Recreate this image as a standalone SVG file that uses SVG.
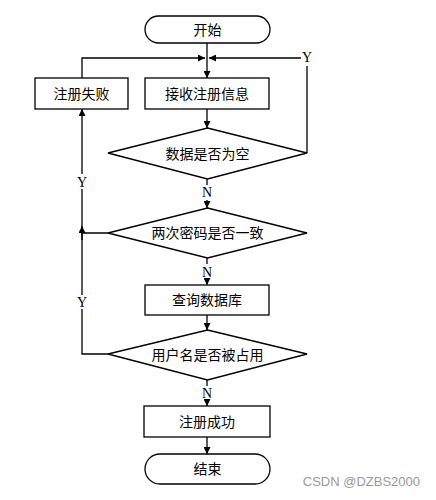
<svg xmlns="http://www.w3.org/2000/svg" width="436" height="500" viewBox="0 0 436 500">
<style>
.s{fill:#fff;stroke:#000;stroke-width:1.3}
.t{font-family:"Liberation Serif","Noto Sans CJK SC",serif;font-size:14px;fill:#000;text-anchor:middle;dominant-baseline:central}
.l{font-family:"Liberation Serif",serif;font-size:14px;fill:#000;text-anchor:middle;dominant-baseline:central}
.c{fill:none;stroke:#000;stroke-width:1.3}
</style>
<defs>
<marker id="a" viewBox="0 0 10 10" refX="10" refY="5" markerWidth="7" markerHeight="7" markerUnits="userSpaceOnUse" orient="auto">
<path d="M0,0 L10,5 L0,10 z" fill="#000"/>
</marker>
</defs>
<rect width="436" height="500" fill="#fff"/>
<g id="connectors">
<path class="c" d="M207,43 V78" marker-end="url(#a)"/>
<path class="c" d="M82,78 V58 H205" marker-end="url(#a)"/>
<path class="c" d="M307,153 V66"/>
<path class="c" d="M301,58 H209" marker-end="url(#a)"/>
<path class="c" d="M207,109 V128" marker-end="url(#a)"/>
<path class="c" d="M207,179 V185"/>
<path class="c" d="M207,200 V208" marker-end="url(#a)"/>
<path class="c" d="M207,258 V264"/>
<path class="c" d="M207,279 V285" marker-end="url(#a)"/>
<path class="c" d="M207,315 V330" marker-end="url(#a)"/>
<path class="c" d="M207,380 V386"/>
<path class="c" d="M207,400 V406" marker-end="url(#a)"/>
<path class="c" d="M207,437 V454" marker-end="url(#a)"/>
<path class="c" d="M108,354 H82 V309"/>
<path class="c" d="M82,295 V233"/>
<path class="c" d="M108,233 H82 V189"/>
<path class="c" d="M82,174 V109" marker-end="url(#a)"/>
<path class="c" d="M82,240 V226" marker-end="url(#a)"/>
<text class="l" x="307" y="57">Y</text>
<text class="l" x="82" y="182">Y</text>
<text class="l" x="82" y="302">Y</text>
<text class="l" x="207" y="192">N</text>
<text class="l" x="207" y="272">N</text>
<text class="l" x="207" y="393">N</text>
</g>
<g id="start"><rect class="s" x="145" y="16" width="125" height="27" rx="13.5"/><text class="t" x="207.5" y="30">开始</text></g>
<g id="fail"><rect class="s" x="35" y="78" width="93" height="31"/><text class="t" x="81.5" y="94">注册失败</text></g>
<g id="receive"><rect class="s" x="145" y="78" width="124" height="31"/><text class="t" x="207" y="94">接收注册信息</text></g>
<g id="empty"><polygon class="s" points="207.5,128 307,153 207.5,179 108,153"/><text class="t" x="207.5" y="154">数据是否为空</text></g>
<g id="pwd"><polygon class="s" points="207.5,208 307,233 207.5,258 108,233"/><text class="t" x="207.5" y="233">两次密码是否一致</text></g>
<g id="query"><rect class="s" x="145" y="285" width="124" height="30"/><text class="t" x="207" y="300">查询数据库</text></g>
<g id="used"><polygon class="s" points="207.5,330 307,354 207.5,380 108,354"/><text class="t" x="207.5" y="355">用户名是否被占用</text></g>
<g id="success"><rect class="s" x="144" y="406" width="126" height="31"/><text class="t" x="207" y="422">注册成功</text></g>
<g id="end"><rect class="s" x="145" y="454" width="125" height="30" rx="15"/><text class="t" x="207.5" y="469">结束</text></g>
<text x="420" y="486" font-family="Liberation Sans,Arial,sans-serif" font-size="13" fill="#999" text-anchor="end">CSDN @DZBS2000</text>
</svg>
